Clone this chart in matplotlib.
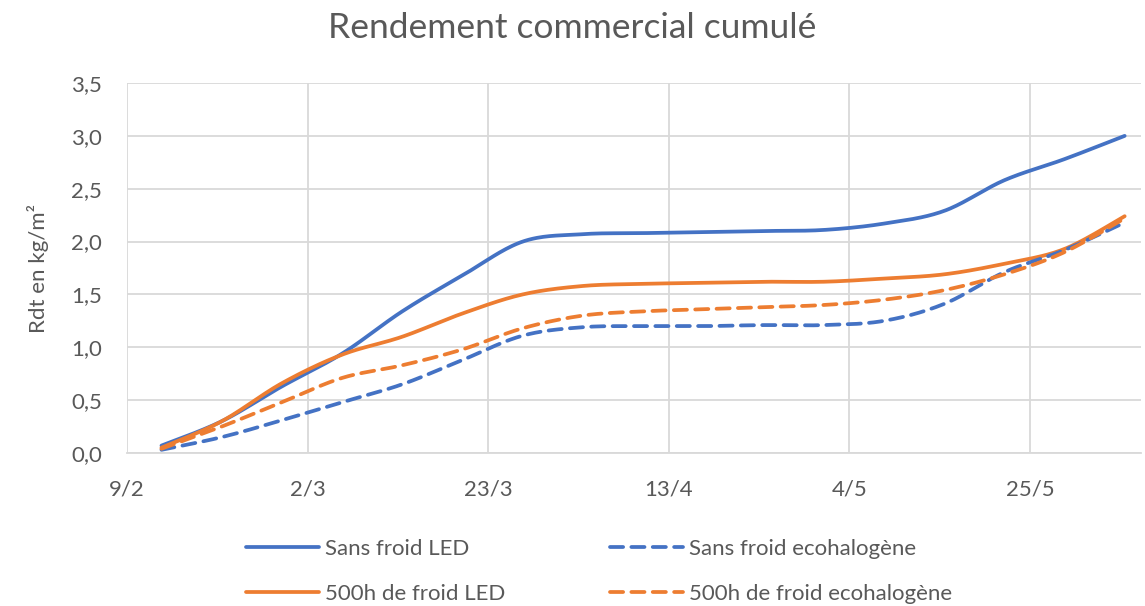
import numpy as np
import matplotlib
matplotlib.use("Agg")
import matplotlib.pyplot as plt
import matplotlib.dates as mdates
from datetime import date, timedelta

# weekly harvest dates (13/2 -> 5/6)
dates = [date(2021, 2, 13) + timedelta(days=7 * i) for i in range(17)]

sans_froid_led = [0.07, 0.30, 0.63, 0.94, 1.34, 1.68, 2.00, 2.07, 2.08, 2.09, 2.10, 2.11, 2.17, 2.29, 2.58, 2.78, 3.00]
sans_froid_eco = [0.03, 0.15, 0.31, 0.48, 0.65, 0.88, 1.11, 1.19, 1.20, 1.20, 1.21, 1.21, 1.25, 1.41, 1.71, 1.92, 2.18]
froid_led = [0.05, 0.30, 0.66, 0.93, 1.10, 1.32, 1.50, 1.58, 1.60, 1.61, 1.62, 1.62, 1.65, 1.69, 1.79, 1.93, 2.24]
froid_eco = [0.04, 0.25, 0.48, 0.71, 0.83, 0.98, 1.18, 1.30, 1.34, 1.36, 1.38, 1.40, 1.45, 1.54, 1.69, 1.90, 2.22]

tick_dates = [date(2021, 2, 9) + timedelta(days=21 * i) for i in range(6)]

BLUE = "#4472C4"
ORANGE = "#ED7D31"
GREY = "#595959"


def smooth(xs, ys, n=30):
    # Excel-like smoothed line (Bezier through the points)
    x = np.asarray(xs, float)
    y = np.asarray(ys, float)
    px = np.concatenate([[x[0]], x, [x[-1]]])
    py = np.concatenate([[y[0]], y, [y[-1]]])
    t = np.linspace(0, 1, n)[:, None]
    outx, outy = [], []
    for i in range(1, len(px) - 2):
        p0 = np.array([px[i], py[i]])
        p3 = np.array([px[i + 1], py[i + 1]])
        c1 = p0 + (np.array([px[i + 1], py[i + 1]]) - np.array([px[i - 1], py[i - 1]])) / 6
        c2 = p3 - (np.array([px[i + 2], py[i + 2]]) - np.array([px[i], py[i]])) / 6
        b = ((1 - t) ** 3) * p0 + 3 * ((1 - t) ** 2) * t * c1 + 3 * (1 - t) * t ** 2 * c2 + t ** 3 * p3
        outx.append(b[:, 0])
        outy.append(b[:, 1])
    return np.concatenate(outx), np.concatenate(outy)


plt.rcParams['font.family'] = ['Lato', 'DejaVu Sans']

fig = plt.figure(figsize=(11.45, 6.06), dpi=100)
ax = fig.add_axes([0.111, 0.2525, 0.8855, 0.6105])

xnum = mdates.date2num(dates)
dash = (0, (3.5, 2.2))
lw = 2.7
series = [
    (sans_froid_led, BLUE, '-', "Sans froid LED"),
    (froid_led, ORANGE, '-', "500h de froid LED"),
    (sans_froid_eco, BLUE, dash, "Sans froid ecohalogène"),
    (froid_eco, ORANGE, dash, "500h de froid ecohalogène"),
]
handles = []
for vals, col, ls, lab in series:
    sx, sy = smooth(xnum, vals)
    h, = ax.plot(sx, sy, color=col, linestyle=ls, linewidth=lw, label=lab,
                 dash_capstyle='round', solid_capstyle='round')
    handles.append(h)

ax.set_ylim(0, 3.5)
ax.set_yticks(np.arange(0, 3.51, 0.5))
ax.set_yticklabels([f"{v:.1f}".replace('.', ',') for v in np.arange(0, 3.51, 0.5)])
ax.set_xlim(mdates.date2num(date(2021, 2, 9)), mdates.date2num(date(2021, 2, 9)) + 117.9)
ax.set_xticks(mdates.date2num(tick_dates))
ax.set_xticklabels([f"{d.day}/{d.month}" for d in tick_dates])

ax.grid(True, color="#D9D9D9", linewidth=1.3)
ax.set_axisbelow(True)
for s in ['top', 'right', 'left']:
    ax.spines[s].set_visible(False)
ax.spines['bottom'].set_color("#D9D9D9")
ax.spines['bottom'].set_linewidth(1.3)
ax.tick_params(length=0, labelsize=16, labelcolor=GREY)
ax.tick_params(axis='x', pad=19)
ax.tick_params(axis='y', pad=18)

ax.set_ylabel("Rdt en kg/m²", fontsize=16, color=GREY, labelpad=16)
fig.suptitle("Rendement commercial cumulé", fontsize=25.5, color=GREY, y=0.98)

fig.legend(handles=handles, loc='center', bbox_to_anchor=(0.523, 0.057), ncol=2,
           frameon=False, fontsize=16, handlelength=3.3, handletextpad=0.25,
           columnspacing=4.7, labelspacing=1.1, labelcolor=GREY)

fig.savefig("out.png", dpi=100)
